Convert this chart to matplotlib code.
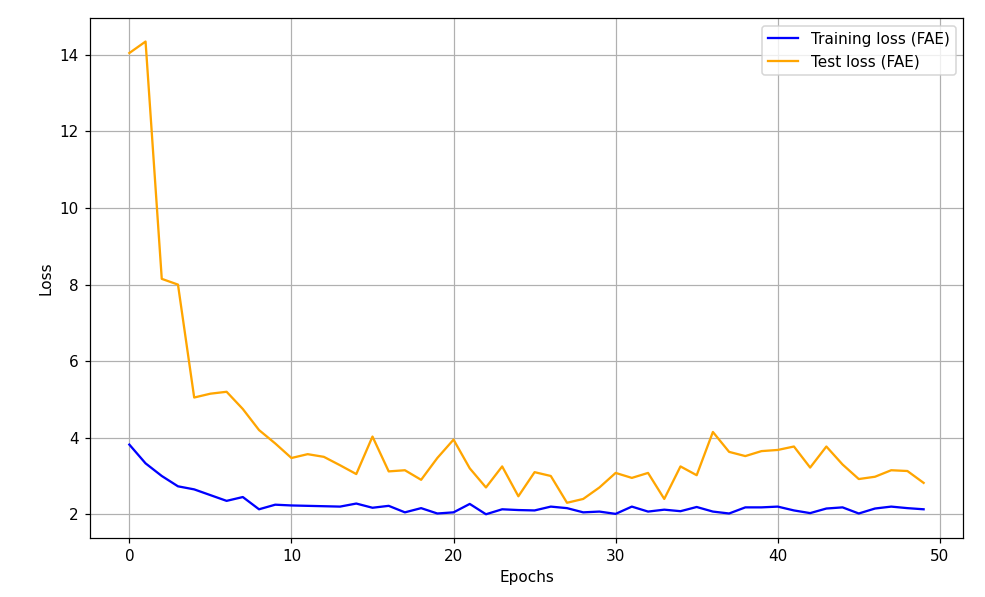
import numpy as np
import matplotlib
matplotlib.use("Agg")
import matplotlib.pyplot as plt

# loss per epoch
epochs = list(range(50))
train_loss = [3.82, 3.33, 3.00, 2.73, 2.65, 2.50, 2.35, 2.45, 2.13, 2.25,
              2.23, 2.22, 2.21, 2.20, 2.28, 2.17, 2.22, 2.05, 2.16, 2.02,
              2.05, 2.27, 2.00, 2.13, 2.11, 2.10, 2.20, 2.16, 2.05, 2.07,
              2.01, 2.20, 2.07, 2.12, 2.08, 2.19, 2.07, 2.02, 2.18, 2.18,
              2.20, 2.10, 2.03, 2.15, 2.18, 2.02, 2.15, 2.20, 2.16, 2.13]
test_loss = [14.05, 14.35, 8.15, 8.00, 5.05, 5.15, 5.20, 4.75, 4.20, 3.85,
             3.47, 3.57, 3.50, 3.28, 3.05, 4.03, 3.12, 3.15, 2.90, 3.47,
             3.95, 3.20, 2.70, 3.25, 2.47, 3.10, 3.00, 2.30, 2.40, 2.70,
             3.08, 2.95, 3.08, 2.40, 3.25, 3.02, 4.15, 3.63, 3.52, 3.65,
             3.68, 3.77, 3.22, 3.77, 3.30, 2.92, 2.98, 3.15, 3.13, 2.82]

# text in the reference is ~10% bigger than default, so draw at dpi 110
dpi = 110
fig, ax = plt.subplots(figsize=(985 / dpi, 597 / dpi), dpi=dpi)
fig.subplots_adjust(left=0.091, right=0.978, top=0.970, bottom=0.099)

ax.plot(epochs, train_loss, color='blue', label='Training loss (FAE)')
ax.plot(epochs, test_loss, color='orange', label='Test loss (FAE)')
ax.set_xlabel('Epochs')
ax.set_ylabel('Loss')
ax.legend()
ax.grid(True)

plt.savefig('out.png', dpi=dpi)
